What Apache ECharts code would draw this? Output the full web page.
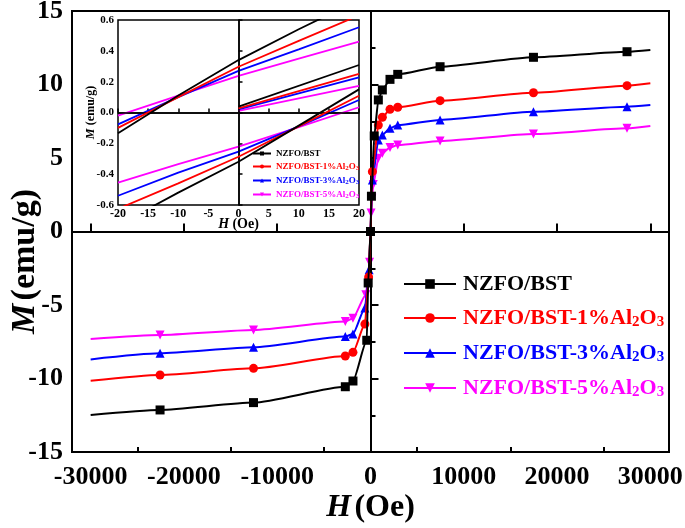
<!DOCTYPE html>
<html>
<head>
<meta charset="utf-8">
<script src="https://cdn.jsdelivr.net/npm/echarts@6/dist/echarts.min.js"></script>
<style>
  html, body { margin: 0; padding: 0; background: #fff; }
  #main { width: 685px; height: 528px; }
</style>
</head>
<body>
<div id="main"></div>
<script>
var names = ['NZFO/BST', 'NZFO/BST-1%Al2O3', 'NZFO/BST-3%Al2O3', 'NZFO/BST-5%Al2O3'];
var colors = ['#000000', '#ff0000', '#0000ff', '#ff00ff'];

// main loops, [H (Oe), M (emu/g)]
var loopBlack = [[-30000,-12.48],[-22560,-12.14],[-12540,-11.64],[-2700,-10.56],[-1880,-10.17],[-400,-7.4],[-250,-3.5],[0,0],[100,2.4],[400,6.5],[840,8.95],[1270,9.63],[2090,10.35],[2920,10.69],[7460,11.21],[17470,11.85],[27500,12.23],[30000,12.35]];
var loopRed = [[-30000,-10.15],[-22560,-9.76],[-12540,-9.31],[-2700,-8.47],[-1880,-8.22],[-600,-6.3],[-200,-3.1],[0,0],[200,4.07],[840,7.24],[1270,7.77],[2090,8.31],[2920,8.45],[7460,8.9],[17470,9.44],[27500,9.92],[30000,10.08]];
var loopBlue = [[-30000,-8.7],[-22560,-8.29],[-12540,-7.88],[-2700,-7.15],[-1880,-6.97],[-600,-5.2],[-150,-2.6],[0,0],[200,3.5],[840,6.22],[1270,6.56],[2090,7.02],[2920,7.24],[7460,7.59],[17470,8.15],[27500,8.49],[30000,8.6]];
var loopPink = [[-30000,-7.31],[-22560,-7.04],[-12540,-6.7],[-2700,-6.13],[-1880,-5.9],[-500,-4.3],[-100,-2.1],[0,0],[60,1.26],[150,2.26],[300,3.2],[840,4.98],[1270,5.32],[2090,5.72],[2920,5.88],[7460,6.16],[17470,6.63],[27500,7.02],[30000,7.18]];

// inset (low field) branches
var insetH = [-20, -10, 0, 10, 20];
var upperM = [
  [-0.135, 0.11, 0.34, 0.54, 0.73],
  [-0.10, 0.10, 0.297, 0.465, 0.63],
  [-0.077, 0.10, 0.27, 0.41, 0.553],
  [-0.02, 0.11, 0.237, 0.35, 0.459]
];
var lowerM = [
  [-0.73, -0.52, -0.319, -0.085, 0.15],
  [-0.625, -0.46, -0.287, -0.09, 0.109],
  [-0.54, -0.39, -0.254, -0.09, 0.081],
  [-0.455, -0.335, -0.222, -0.095, 0.034]
];
var initH = [0, 20];
var initM = [[0.038, 0.308], [0.027, 0.25], [0.02, 0.228], [0.01, 0.172]];

var xMajor = [-30000, -20000, -10000, 0, 10000, 20000, 30000];
var xMinor = [-25000, -15000, -5000, 5000, 15000, 25000];

var serif = 'Liberation Serif, Times New Roman, serif';
var loops = [loopBlack, loopRed, loopBlue, loopPink];
var symbols = ['rect', 'circle', 'triangle', 'triangle'];
var rotates = [0, 0, 0, 180];

function pairs(xs, ys) {
  return xs.map(function (x, i) { return [x, ys[i]]; });
}

function legendRich(size, subSize, subLine) {
  var rich = {};
  colors.forEach(function (c, i) {
    rich['b' + i] = { color: c, fontFamily: serif, fontWeight: 'bold', fontSize: size, lineHeight: size + 2 };
    rich['s' + i] = { color: c, fontFamily: serif, fontWeight: 'bold', fontSize: subSize, lineHeight: subLine, verticalAlign: 'bottom' };
  });
  return rich;
}

function legendText(name) {
  var i = names.indexOf(name);
  var m = name.match(/^(.*Al)2O3$/);
  if (m) return '{b' + i + '|' + m[1] + '}{s' + i + '|2}{b' + i + '|O}{s' + i + '|3}';
  return '{b' + i + '|' + name + '}';
}

function nameStyle(size, pad) {
  return {
    padding: pad || 0,
    rich: {
      i: { fontFamily: serif, fontStyle: 'italic', fontWeight: 'bold', fontSize: size, color: '#000' },
      n: { fontFamily: serif, fontWeight: 'bold', fontSize: size, color: '#000' }
    }
  };
}

var series = [];
loops.forEach(function (d, i) {
  series.push({
    name: names[i],
    type: 'line',
    xAxisIndex: 0,
    yAxisIndex: 0,
    data: d.map(function (p, k) {
      if (k === 0 || k === d.length - 1) return { value: p, symbol: 'none' };
      return p;
    }),
    smooth: 0.2,
    smoothMonotone: 'x',
    symbol: symbols[i],
    symbolRotate: rotates[i],
    symbolSize: 9,
    showAllSymbol: true,
    itemStyle: { color: colors[i] },
    lineStyle: { color: colors[i], width: 2 },
    z: 3 + (3 - i)
  });
});
series[0].markLine = {
  silent: true,
  symbol: ['none', 'none'],
  label: { show: false },
  lineStyle: { color: '#000', width: 2, type: 'solid' },
  data: [{ xAxis: 0 }, { yAxis: 0 }]
};

names.forEach(function (n, i) {
  [pairs(insetH, upperM[i]), pairs(insetH, lowerM[i]), pairs(initH, initM[i])].forEach(function (d) {
    series.push({
      name: n,
      type: 'line',
      xAxisIndex: 2,
      yAxisIndex: 1,
      data: d,
      showSymbol: false,
      itemStyle: { color: colors[i] },
      lineStyle: { color: colors[i], width: 1.8 },
      z: 3 + (3 - i)
    });
  });
});
series.push({
  type: 'line',
  xAxisIndex: 2,
  yAxisIndex: 1,
  data: [],
  markLine: {
    silent: true,
    symbol: ['none', 'none'],
    label: { show: false },
    lineStyle: { color: '#000', width: 1.5, type: 'solid' },
    data: [{ xAxis: 0 }, { yAxis: 0 }]
  }
});

var chart = echarts.init(document.getElementById('main'));
chart.setOption({
  animation: false,
  backgroundColor: '#fff',
  grid: [
    { left: 72, top: 11, width: 597, height: 441, show: true, borderColor: '#000', borderWidth: 2,
      containLabel: false, outerBoundsMode: 'none' },
    { left: 118, top: 20, width: 241, height: 185, show: true, borderColor: '#000', borderWidth: 1.5,
      backgroundColor: '#fff', containLabel: false, outerBoundsMode: 'none' }
  ],
  legend: [
    {
      data: names,
      orient: 'vertical',
      left: 398,
      top: 268,
      itemWidth: 52,
      itemHeight: 12,
      itemGap: 12,
      formatter: legendText,
      textStyle: { padding: [0, 0, 0, 2], rich: legendRich(22, 15, 4) }
    },
    {
      data: names,
      orient: 'vertical',
      left: 247,
      top: 144,
      itemWidth: 18,
      itemHeight: 5,
      itemGap: 4,
      formatter: legendText,
      textStyle: { rich: legendRich(9, 7, 3) }
    }
  ],
  xAxis: [
    {
      gridIndex: 0,
      type: 'value',
      min: -32000,
      max: 32000,
      name: '{i|H} {n|(Oe)}',
      nameLocation: 'middle',
      nameGap: 40,
      nameMoveOverlap: false,
      nameTextStyle: nameStyle(32),
      axisLine: { lineStyle: { color: '#000', width: 2 } },
      axisTick: { inside: true, length: 8, lineStyle: { width: 2 }, customValues: xMajor },
      axisLabel: {
        customValues: xMajor, fontFamily: serif, fontWeight: 'bold', fontSize: 26, color: '#000', margin: 12,
        formatter: function (v) { return String(v); }
      },
      splitLine: { show: false }
    },
    {
      gridIndex: 0,
      type: 'value',
      position: 'bottom',
      min: -32000,
      max: 32000,
      axisLine: { show: false },
      axisTick: { inside: true, length: 5, lineStyle: { width: 2, color: '#000' }, customValues: xMinor },
      axisLabel: { show: false },
      splitLine: { show: false }
    },
    {
      gridIndex: 1,
      type: 'value',
      min: -20,
      max: 20,
      interval: 5,
      name: '{i|H} {n|(Oe)}',
      nameLocation: 'middle',
      nameGap: 12,
      nameMoveOverlap: false,
      nameTextStyle: nameStyle(14),
      axisLine: { lineStyle: { color: '#000', width: 1.5 } },
      axisTick: { inside: true, length: 4, lineStyle: { width: 1.5 } },
      axisLabel: { fontFamily: serif, fontWeight: 'bold', fontSize: 12, color: '#000', margin: 3 },
      splitLine: { show: false }
    }
  ],
  yAxis: [
    {
      gridIndex: 0,
      type: 'value',
      min: -15,
      max: 15,
      interval: 5,
      name: '{i|M} {n|(emu/g)}',
      nameLocation: 'middle',
      nameGap: 30,
      nameMoveOverlap: false,
      nameTextStyle: nameStyle(34, [0, 60, 0, 0]),
      axisLine: { lineStyle: { color: '#000', width: 2 } },
      axisTick: { inside: true, length: 8, lineStyle: { width: 2 } },
      minorTick: { show: true, splitNumber: 2, length: 5, lineStyle: { width: 2, color: '#000' } },
      axisLabel: { fontFamily: serif, fontWeight: 'bold', fontSize: 26, color: '#000', margin: 9 },
      splitLine: { show: false }
    },
    {
      gridIndex: 1,
      type: 'value',
      min: -0.6,
      max: 0.6,
      interval: 0.2,
      name: '{i|M} {n|(emu/g)}',
      nameLocation: 'middle',
      nameGap: 21,
      nameMoveOverlap: false,
      nameTextStyle: nameStyle(12),
      axisLine: { lineStyle: { color: '#000', width: 1.5 } },
      axisTick: { inside: true, length: 4, lineStyle: { width: 1.5 } },
      axisLabel: {
        fontFamily: serif, fontWeight: 'bold', fontSize: 11, color: '#000', margin: 4,
        formatter: function (v) { return v.toFixed(1); }
      },
      splitLine: { show: false }
    }
  ],
  series: series
});
</script>
</body>
</html>
